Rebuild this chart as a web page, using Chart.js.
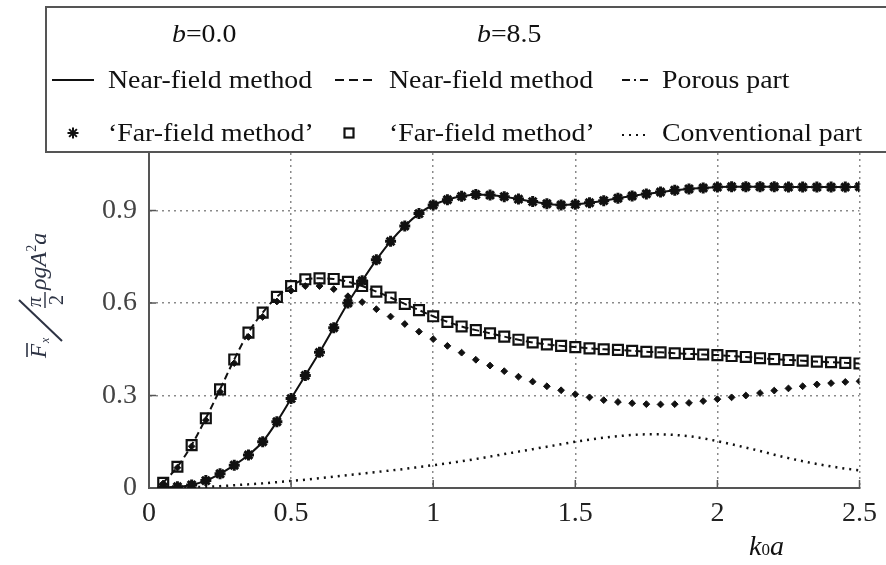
<!DOCTYPE html>
<html><head><meta charset="utf-8">
<script src="https://cdn.jsdelivr.net/npm/chart.js@4/dist/chart.umd.min.js"></script>
<style>html,body{margin:0;padding:0;background:#fff;} #wrap{position:relative;width:886px;height:565px;}</style>
</head><body><div id="wrap"><canvas id="c" width="886" height="565"></canvas></div>
<script>
// ---- data ----
const kValues = [0.05,0.1,0.15,0.2,0.25,0.3,0.35,0.4,0.45,0.5,
  0.55,0.6,0.65,0.7,0.75,0.8,0.85,0.9,0.95,1.0,
  1.05,1.1,1.15,1.2,1.25,1.3,1.35,1.4,1.45,1.5,
  1.55,1.6,1.65,1.7,1.75,1.8,1.85,1.9,1.95,2.0,
  2.05,2.1,2.15,2.2,2.25,2.3,2.35,2.4,2.45,2.5];
// b = 0.0, near-field method (solid line)
const nearFieldB0 = [0.002,0.004,0.01,0.024,0.046,0.074,0.107,0.15,0.215,0.29,
  0.365,0.44,0.52,0.6,0.672,0.74,0.8,0.85,0.89,0.918,
  0.935,0.946,0.952,0.95,0.945,0.937,0.929,0.922,0.918,0.92,
  0.925,0.932,0.94,0.947,0.954,0.96,0.966,0.97,0.973,0.976,
  0.977,0.977,0.977,0.977,0.976,0.976,0.976,0.976,0.976,0.977];
// b = 0.0, far-field method (stars)
const farFieldB0 = [0.002,0.004,0.01,0.024,0.046,0.074,0.107,0.15,0.215,0.29,
  0.365,0.44,0.52,0.6,0.672,0.74,0.8,0.85,0.89,0.918,
  0.935,0.946,0.952,0.95,0.945,0.937,0.929,0.922,0.918,0.92,
  0.925,0.932,0.94,0.947,0.954,0.96,0.966,0.97,0.973,0.976,
  0.977,0.977,0.977,0.977,0.976,0.976,0.976,0.976,0.976,0.977];
// b = 8.5, near-field method (dashed line)
const nearFieldB85 = [0.017,0.069,0.139,0.226,0.32,0.417,0.504,0.569,0.62,0.655,
  0.677,0.68,0.678,0.669,0.655,0.637,0.618,0.597,0.577,0.557,
  0.539,0.524,0.512,0.502,0.491,0.481,0.472,0.466,0.461,0.457,
  0.453,0.45,0.448,0.445,0.442,0.44,0.437,0.435,0.433,0.431,
  0.428,0.425,0.421,0.418,0.415,0.413,0.41,0.408,0.406,0.404];
// b = 8.5, far-field method (squares)
const farFieldB85 = [0.017,0.069,0.139,0.226,0.32,0.417,0.504,0.569,0.62,0.655,
  0.677,0.68,0.678,0.669,0.655,0.637,0.618,0.597,0.577,0.557,
  0.539,0.524,0.512,0.502,0.491,0.481,0.472,0.466,0.461,0.457,
  0.453,0.45,0.448,0.445,0.442,0.44,0.437,0.435,0.433,0.431,
  0.428,0.425,0.421,0.418,0.415,0.413,0.41,0.408,0.406,0.404];
// porous part (dash-dot)
const porousPart = [0.015,0.066,0.135,0.22,0.312,0.405,0.49,0.555,0.605,0.64,
  0.655,0.655,0.645,0.622,0.603,0.58,0.556,0.532,0.507,0.483,
  0.461,0.439,0.416,0.397,0.379,0.361,0.345,0.33,0.317,0.304,
  0.294,0.285,0.279,0.275,0.272,0.271,0.272,0.276,0.282,0.288,
  0.294,0.3,0.308,0.316,0.323,0.33,0.336,0.34,0.344,0.346];
// conventional part (dotted)
const conventionalPart = [0.0,0.001,0.002,0.004,0.006,0.009,0.012,0.015,0.019,0.023,
  0.027,0.032,0.037,0.042,0.047,0.052,0.057,0.062,0.068,0.074,
  0.08,0.087,0.094,0.102,0.11,0.118,0.126,0.134,0.142,0.15,
  0.157,0.163,0.168,0.172,0.174,0.174,0.172,0.168,0.161,0.152,
  0.142,0.131,0.12,0.108,0.097,0.087,0.078,0.07,0.063,0.057];
const xTickValues = [0,0.5,1,1.5,2,2.5];
const xTickLabels = ['0','0.5','1','1.5','2','2.5'];
const yTickValues = [0,0.3,0.6,0.9];
const yTickLabels = ['0','0.3','0.6','0.9'];
const legendGroups = ['b=0.0','b=8.5'];
const legendLabels = ['Near-field method','Near-field method','Porous part',
  '\u2018Far-field method\u2019','\u2018Far-field method\u2019','Conventional part'];

const pts = arr => kValues.map((k,i)=>({x:k,y:arr[i]}));
const INK = '#111';

const extras = {
  id:'extras',
  afterDraw(chart){
    const ctx = chart.ctx, xs = chart.scales.x, ys = chart.scales.y;
    const x0 = xs.left, yb = ys.bottom;
    ctx.save();
    // inward tick marks
    ctx.strokeStyle='#555'; ctx.lineWidth=1.5; ctx.setLineDash([]);
    xTickValues.forEach(v=>{ if(v===0) return; const px=xs.getPixelForValue(v);
      ctx.beginPath(); ctx.moveTo(px,yb); ctx.lineTo(px,yb-8); ctx.stroke(); });
    yTickValues.forEach(v=>{ if(v===0) return; const py=ys.getPixelForValue(v);
      ctx.beginPath(); ctx.moveTo(x0,py); ctx.lineTo(x0+7,py); ctx.stroke(); });

    // legend box
    ctx.fillStyle='#fff'; ctx.fillRect(46,7,900,145);
    ctx.strokeStyle='#555'; ctx.lineWidth=2; ctx.strokeRect(46,7,900,145);

    const txt = (s,x,y,font,sx)=>{ ctx.save(); ctx.font=font; ctx.fillStyle=INK;
      ctx.textBaseline='alphabetic'; ctx.textAlign='left';
      ctx.translate(x,y); ctx.scale(sx||1.07,1); ctx.fillText(s,0,0); ctx.restore(); };
    const F = '26px "Liberation Serif"', FI = 'italic 26px "Liberation Serif"';
    // group headings
    [[legendGroups[0],172],[legendGroups[1],477]].forEach(([s,x])=>{
      ctx.save(); ctx.font=FI; const wb = ctx.measureText('b').width*1.07; ctx.restore();
      txt('b',x,42,FI); txt(s.slice(1),x+wb,42,F);
    });
    // row 2 & 3 labels
    txt(legendLabels[0],108,88,F); txt(legendLabels[1],389,88,F); txt(legendLabels[2],662,88,F);
    txt(legendLabels[3],108,141,F); txt(legendLabels[4],389,141,F); txt(legendLabels[5],662,141,F);
    // legend samples
    ctx.strokeStyle=INK; ctx.lineWidth=2;
    ctx.setLineDash([]); ctx.beginPath(); ctx.moveTo(52,80); ctx.lineTo(94,80); ctx.stroke();
    ctx.setLineDash([9,5]); ctx.beginPath(); ctx.moveTo(335,80); ctx.lineTo(377,80); ctx.stroke();
    ctx.setLineDash([8,4,2,4]); ctx.beginPath(); ctx.moveTo(622,80); ctx.lineTo(648,80); ctx.stroke();
    ctx.setLineDash([2,5]); ctx.lineWidth=2; ctx.beginPath(); ctx.moveTo(622,135); ctx.lineTo(650,135); ctx.stroke();
    ctx.setLineDash([]);
    Chart.helpers.drawPoint(ctx,{pointStyle:'star',radius:5.5,borderWidth:3},73,133);
    ctx.lineWidth=2.2; ctx.strokeRect(344.5,128.5,9,9);

    // y axis title (rotated)
    ctx.save();
    ctx.fillStyle='#2d3344'; ctx.strokeStyle='#2d3344';
    ctx.translate(46,358); ctx.rotate(-Math.PI/2);
    ctx.textBaseline='alphabetic'; ctx.textAlign='left';
    ctx.font='italic 23px "Liberation Serif"'; ctx.fillText('F',0,0);
    ctx.lineWidth=1.6; ctx.beginPath(); ctx.moveTo(1,-19); ctx.lineTo(15,-19); ctx.stroke();
    ctx.font='italic 12px "Liberation Serif"'; ctx.fillText('x',15,3);
    ctx.lineWidth=2; ctx.beginPath(); ctx.moveTo(17,16); ctx.lineTo(58,-27); ctx.stroke();
    ctx.font='italic 20px "Liberation Serif"'; ctx.fillText('\u03c0',51,-5);
    ctx.lineWidth=1.4; ctx.beginPath(); ctx.moveTo(50,-1); ctx.lineTo(66,-1); ctx.stroke();
    ctx.font='20px "Liberation Serif"'; ctx.fillText('2',53,17);
    ctx.font='italic 24px "Liberation Serif"'; ctx.fillText('\u03c1gA',68,0);
    let w = ctx.measureText('\u03c1gA').width;
    ctx.font='14px "Liberation Serif"'; ctx.fillText('2',68+w,-10);
    ctx.font='italic 24px "Liberation Serif"'; ctx.fillText('a',68+w+7,0);
    ctx.restore();

    // x axis title
    ctx.fillStyle=INK; ctx.textBaseline='alphabetic'; ctx.textAlign='left';
    ctx.font='italic 28px "Liberation Serif"'; ctx.fillText('k',749,555);
    let wk = ctx.measureText('k').width;
    ctx.font='17px "Liberation Serif"'; ctx.fillText('0',749+wk,555);
    let w0 = ctx.measureText('0').width;
    ctx.font='italic 28px "Liberation Serif"'; ctx.fillText('a',749+wk+w0,555);
    ctx.restore();
  }
};

new Chart(document.getElementById('c'), {
  type:'line',
  data:{ datasets:[
    { label:'b=0.0 Near-field method', data:pts(nearFieldB0), borderColor:INK, borderWidth:2,
      pointRadius:0, cubicInterpolationMode:'monotone', fill:false },
    { label:'b=0.0 Far-field method', data:pts(farFieldB0), showLine:false, pointStyle:'star',
      pointRadius:5.5, borderColor:INK, pointBorderWidth:3, backgroundColor:INK },
    { label:'b=8.5 Near-field method', data:pts(nearFieldB85), borderColor:INK, borderWidth:2,
      borderDash:[7,4], pointRadius:0, cubicInterpolationMode:'monotone', fill:false },
    { label:'b=8.5 Far-field method', data:pts(farFieldB85), showLine:false, pointStyle:'rect',
      pointRadius:7, borderColor:INK, pointBorderWidth:2.2, backgroundColor:'rgba(0,0,0,0)' },
    { label:'Porous part', data:pts(porousPart), showLine:false, pointStyle:'rectRot',
      pointRadius:3.4, borderColor:INK, pointBorderWidth:1, backgroundColor:INK },
    { label:'Conventional part', data:pts(conventionalPart), borderColor:INK, borderWidth:2.5,
      borderDash:[2,5], pointRadius:0, cubicInterpolationMode:'monotone', fill:false }
  ]},
  options:{
    responsive:false, animation:false, events:[],
    layout:{ padding:{ left:0, top:153, right:24, bottom:0 } },
    plugins:{ legend:{display:false}, tooltip:{enabled:false} },
    scales:{
      x:{ type:'linear', min:0, max:2.5,
        afterBuildTicks: s=>{ s.ticks = xTickValues.map(v=>({value:v})); },
        afterFit: s=>{ s.height = 77; },
        ticks:{ callback:(v,i)=>xTickLabels[i], font:{family:'"Liberation Serif"', size:28},
          color:'#222', padding:9, maxRotation:0, autoSkip:false },
        grid:{ color:'#8a8a8a', lineWidth:1.5, drawTicks:false },
        border:{ display:true, color:'#555', width:2, dash:[2,4] } },
      y:{ type:'linear', min:0, max:1.0866,
        afterBuildTicks: s=>{ s.ticks = yTickValues.map(v=>({value:v})); },
        afterFit: s=>{ s.width = 149; },
        ticks:{ callback:(v,i)=>yTickLabels[i], font:{family:'"Liberation Serif"', size:28},
          color:'#444', padding:12, autoSkip:false },
        grid:{ color:'#8a8a8a', lineWidth:1.5, drawTicks:false },
        border:{ display:true, color:'#555', width:2, dash:[2,4] } }
    }
  },
  plugins:[extras]
});
</script></body></html>
